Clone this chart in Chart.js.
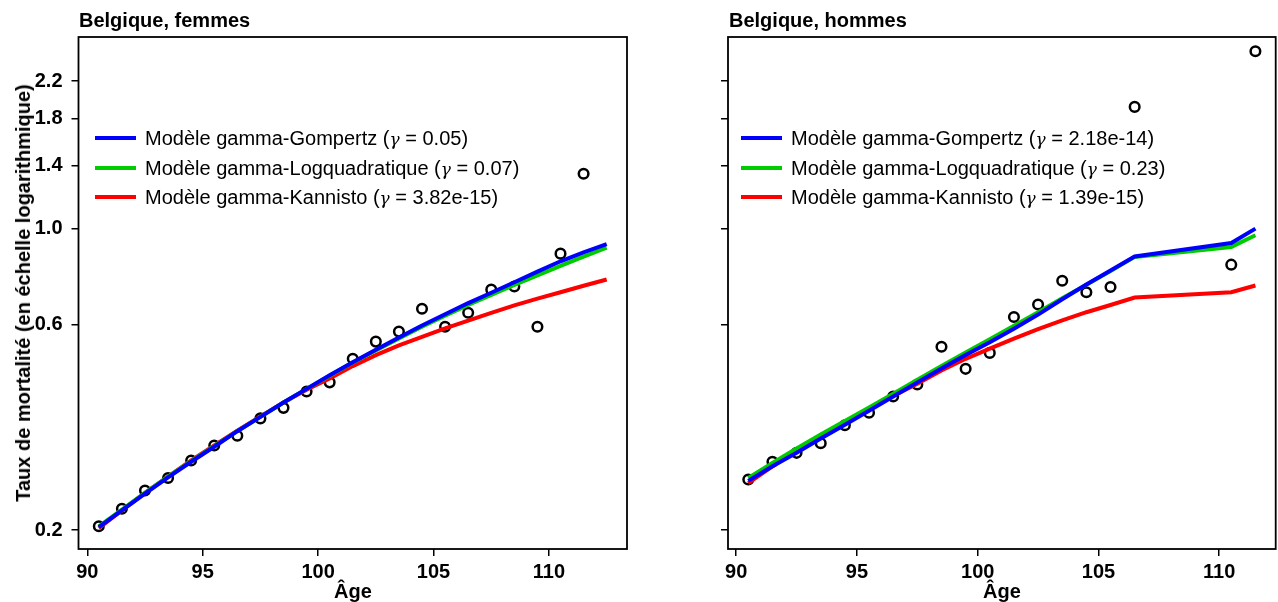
<!DOCTYPE html>
<html>
<head>
<meta charset="utf-8">
<script src="https://cdn.jsdelivr.net/npm/chart.js@4.4.1/dist/chart.umd.min.js"></script>
<style>
  html, body { margin: 0; padding: 0; background: #fff; }
  body { width: 1278px; height: 602px; position: relative; overflow: hidden;
         font-family: 'Liberation Sans', Arial, sans-serif; color: #000; }
  canvas { position: absolute; top: 0; }
  .title { position: absolute; top: 10px; font-size: 20px; line-height: 20px; font-weight: bold; white-space: nowrap; }
  .xlab { position: absolute; top: 581px; font-size: 20px; line-height: 20px; font-weight: bold; transform: translateX(-50%); }
  .ylab { position: absolute; left: 23px; top: 293px; font-size: 20px; line-height: 22px; font-weight: bold;
          white-space: nowrap; transform: translate(-50%, -50%) rotate(-90deg); }
  .legend { position: absolute; top: 126px; }
  .legend .row { position: relative; height: 29.5px; }
  .legend .swatch { position: absolute; left: 0; top: 10px; width: 41px; height: 4px; }
  .legend .txt { position: absolute; top: 1px; font-size: 20px; line-height: 22px; white-space: nowrap; }
  .legend .g { font-family: 'DejaVu Serif', serif; font-style: italic; font-size: 17px; }
</style>
</head>
<body>

<canvas id="chartF" width="640" height="602" style="left:0"></canvas>
<canvas id="chartH" width="643" height="602" style="left:640px"></canvas>

<div class="title" style="left:79px">Belgique, femmes</div>
<div class="title" style="left:729px">Belgique, hommes</div>
<div class="ylab">Taux de mortalité (en échelle logarithmique)</div>
<div class="xlab" style="left:353px">Âge</div>
<div class="xlab" style="left:1002px">Âge</div>

<div class="legend" id="legendF" style="left:95px"></div>
<div class="legend" id="legendH" style="left:741px"></div>

<script>
// ---- data ----
const femmesAges = [90.5, 91.5, 92.5, 93.5, 94.5, 95.5, 96.5, 97.5, 98.5, 99.5, 100.5, 101.5,
                    102.5, 103.5, 104.5, 105.5, 106.5, 107.5, 108.5, 109.5, 110.5, 111.5, 112.5];
const femmesObs = [0.204, 0.224, 0.247, 0.264, 0.290, 0.314, 0.331, 0.363, 0.384, 0.419, 0.440, 0.499,
                   0.547, 0.577, 0.652, 0.592, 0.638, 0.722, 0.734, 0.592, 0.875, 1.341, null];
const femmesGompertz = [0.203, 0.222, 0.243, 0.265, 0.288, 0.312, 0.339, 0.366, 0.395, 0.425, 0.457, 0.490,
                        0.524, 0.559, 0.596, 0.633, 0.672, 0.710, 0.751, 0.795, 0.840, 0.881, 0.921];
const femmesLogquad = [0.204, 0.223, 0.244, 0.266, 0.289, 0.313, 0.339, 0.366, 0.395, 0.425, 0.456, 0.489,
                       0.522, 0.556, 0.592, 0.628, 0.665, 0.702, 0.740, 0.779, 0.820, 0.861, 0.903];
const femmesKannisto = [0.202, 0.222, 0.244, 0.266, 0.290, 0.314, 0.340, 0.367, 0.395, 0.423, 0.449, 0.480,
                        0.509, 0.536, 0.561, 0.587, 0.612, 0.638, 0.664, 0.688, 0.712, 0.737, 0.762];

// hommes: no observed rate at 107.5-109.5, curves only evaluated where data exist
const hommesAges = [90.5, 91.5, 92.5, 93.5, 94.5, 95.5, 96.5, 97.5, 98.5, 99.5, 100.5, 101.5,
                    102.5, 103.5, 104.5, 105.5, 106.5, 110.5, 111.5];
const hommesObs = [0.262, 0.288, 0.302, 0.318, 0.350, 0.374, 0.408, 0.435, 0.532, 0.473, 0.515, 0.624,
                   0.667, 0.757, 0.712, 0.732, 1.916, 0.825, 2.58];
const hommesGompertz = [0.260, 0.281, 0.302, 0.326, 0.351, 0.378, 0.408, 0.440, 0.474, 0.509, 0.545, 0.586,
                        0.632, 0.686, 0.742, 0.800, 0.862, 0.926, 1.000];
const hommesLogquad = [0.264, 0.286, 0.309, 0.333, 0.358, 0.385, 0.414, 0.446, 0.480, 0.516, 0.554, 0.595,
                       0.640, 0.690, 0.741, 0.797, 0.860, 0.907, 0.965];
const hommesKannisto = [0.257, 0.281, 0.306, 0.332, 0.357, 0.382, 0.409, 0.437, 0.469, 0.499, 0.527, 0.556,
                        0.585, 0.613, 0.640, 0.665, 0.692, 0.712, 0.738];

const modelNames = ['Modèle gamma-Gompertz', 'Modèle gamma-Logquadratique', 'Modèle gamma-Kannisto'];
const gammaF = ['0.05', '0.07', '3.82e-15'];
const gammaH = ['2.18e-14', '0.23', '1.39e-15'];

const yTicks = [0.2, 0.6, 1.0, 1.4, 1.8, 2.2];
const xTicks = [90, 95, 100, 105, 110];
const yMin = 0.1807, yMax = 2.783;

const colors = ['#0000FF', '#00CC00', '#FF0000'];
const FONT = "'Liberation Sans', Arial, sans-serif";

// draws the full R-style box round the plot region
const boxPlugin = {
    id: 'box',
    afterDraw(chart) {
        const a = chart.chartArea, ctx = chart.ctx;
        ctx.save();
        ctx.strokeStyle = '#000';
        ctx.lineWidth = 1.8;
        ctx.strokeRect(a.left, a.top, a.right - a.left, a.bottom - a.top);
        ctx.restore();
    }
};

function pairs(xs, ys) {
    return xs.map((x, i) => ({ x: x, y: ys[i] })).filter(p => p.y != null);
}

function makeChart(id, ages, obs, curves, opts) {
    const lineSet = (data, i) => ({
        data: pairs(ages, data),
        borderColor: colors[i],
        borderWidth: 4,
        pointRadius: 0,
        showLine: true,
        fill: false,
        tension: 0,
        order: i + 1
    });
    return new Chart(document.getElementById(id), {
        type: 'scatter',
        data: {
            datasets: [
                lineSet(curves[0], 0),
                lineSet(curves[1], 1),
                lineSet(curves[2], 2),
                {
                    data: pairs(ages, obs),
                    showLine: false,
                    pointStyle: 'circle',
                    pointRadius: 4.8,
                    pointBorderWidth: 2.5,
                    pointBorderColor: '#000',
                    pointBackgroundColor: 'rgba(0,0,0,0)',
                    order: 5
                }
            ]
        },
        options: {
            responsive: false,
            animation: false,
            events: [],
            layout: { padding: { top: 37, right: opts.padRight, left: 0, bottom: 0 } },
            plugins: { legend: { display: false }, tooltip: { enabled: false } },
            scales: {
                x: {
                    type: 'linear',
                    min: opts.xMin,
                    max: opts.xMax,
                    afterBuildTicks: s => { s.ticks = xTicks.map(v => ({ value: v })); },
                    afterFit: s => { s.height = 53; s.paddingLeft = 0; s.paddingRight = 0; },
                    grid: { display: true, drawOnChartArea: false, drawTicks: true, tickLength: 7, color: '#000', lineWidth: 1.5 },
                    border: { display: false },
                    ticks: { color: '#000', padding: 4, maxRotation: 0, autoSkip: false,
                             font: { family: FONT, size: 20, weight: 'bold' },
                             callback: v => String(v) }
                },
                y: {
                    type: 'logarithmic',
                    min: yMin,
                    max: yMax,
                    afterBuildTicks: s => { s.ticks = yTicks.map(v => ({ value: v })); },
                    afterFit: s => { s.width = opts.yWidth; s.paddingTop = 0; s.paddingBottom = 0; },
                    grid: { display: true, drawOnChartArea: false, drawTicks: true, tickLength: 7, color: '#000', lineWidth: 1.5 },
                    border: { display: false },
                    ticks: { color: '#000', padding: 9, autoSkip: false,
                             font: { family: FONT, size: 20, weight: 'bold' },
                             callback: v => opts.showY ? Number(v).toFixed(1) : '' }
                }
            }
        },
        plugins: [boxPlugin]
    });
}

function makeLegend(id, gammas) {
    const box = document.getElementById(id);
    modelNames.forEach((name, i) => {
        const row = document.createElement('div');
        row.className = 'row';
        row.innerHTML = `<span class="swatch" style="background:${colors[i]}"></span>` +
            `<span class="txt" style="left:50px">${name} (<span class="g">γ</span> = ${gammas[i]})</span>`;
        box.appendChild(row);
    });
}

document.addEventListener('DOMContentLoaded', () => {
    makeChart('chartF', femmesAges, femmesObs, [femmesGompertz, femmesLogquad, femmesKannisto],
              { xMin: 89.62, xMax: 113.38, yWidth: 78.5, padRight: 13, showY: true });
    // canvas runs a little past the page edge: Chart.js keeps ~7px free on the right
    makeChart('chartH', hommesAges, hommesObs, [hommesGompertz, hommesLogquad, hommesKannisto],
              { xMin: 89.66, xMax: 112.34, yWidth: 88, padRight: 2, showY: false });
    makeLegend('legendF', gammaF);
    makeLegend('legendH', gammaH);
});
</script>
</body>
</html>
